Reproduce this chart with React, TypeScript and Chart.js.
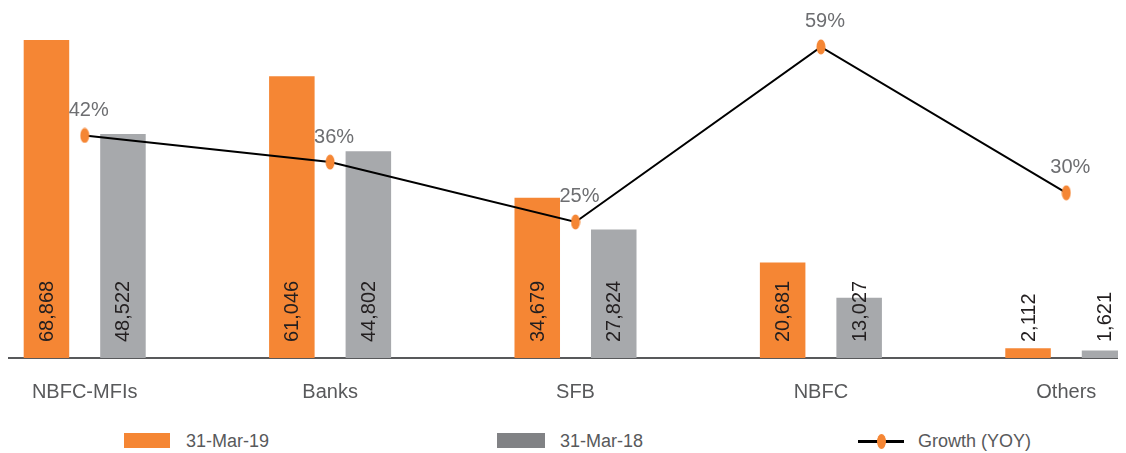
import React, { useEffect, useRef } from "react";
import { Chart, registerables } from "chart.js";

Chart.register(...registerables);

const categories = ["NBFC-MFIs", "Banks", "SFB", "NBFC", "Others"];
const mar19 = [68868, 61046, 34679, 20681, 2112];
const mar18 = [48522, 44802, 27824, 13027, 1621];
const growth = [41.5, 36.3, 24.6, 58.8, 30.3];
const seriesNames = ["31-Mar-19", "31-Mar-18", "Growth (YOY)"];

const ORANGE = "#F58634";
const GREY = "#A7A9AC";
const LEGEND_GREY = "#818285";
const TEXT = "#58595B";
const FONT = '"Liberation Sans", Arial, sans-serif';

function makeDot(): HTMLCanvasElement {
  const c = document.createElement("canvas");
  c.width = 10;
  c.height = 16;
  const g = c.getContext("2d")!;
  g.fillStyle = ORANGE;
  g.beginPath();
  g.ellipse(5, 8, 4.5, 7.5, 0, 0, Math.PI * 2);
  g.fill();
  return c;
}

const fmt = (v: number) => v.toLocaleString("en-US");

const labelPlugin = {
  id: "valueLabels",
  afterDatasetsDraw(chart: any) {
    const ctx = chart.ctx as CanvasRenderingContext2D;
    const bottom = chart.chartArea.bottom;
    [0, 1].forEach((di) => {
      const meta = chart.getDatasetMeta(di);
      const data = chart.data.datasets[di].data as number[];
      meta.data.forEach((el: any, i: number) => {
        ctx.save();
        ctx.translate(el.x, bottom - 16);
        ctx.rotate(-Math.PI / 2);
        ctx.font = `20px ${FONT}`;
        ctx.fillStyle = "#231F20";
        ctx.textAlign = "left";
        ctx.textBaseline = "middle";
        ctx.fillText(fmt(data[i]), 0, 1);
        ctx.restore();
      });
    });
    const lmeta = chart.getDatasetMeta(2);
    const ldata = chart.data.datasets[2].data as number[];
    lmeta.data.forEach((el: any, i: number) => {
      ctx.save();
      ctx.font = `20px ${FONT}`;
      ctx.fillStyle = "#6D6E71";
      ctx.textAlign = "center";
      ctx.textBaseline = "middle";
      ctx.fillText(Math.round(ldata[i]) + "%", el.x + 4, el.y - 25);
      ctx.restore();
    });
  },
};

export default function App() {
  const ref = useRef<HTMLCanvasElement | null>(null);

  useEffect(() => {
    if (!ref.current) return;
    const dot = makeDot();
    const chart = new Chart(ref.current, {
      type: "bar",
      data: {
        labels: categories,
        datasets: [
          {
            type: "bar",
            label: seriesNames[0],
            data: mar19,
            backgroundColor: ORANGE,
            categoryPercentage: 0.6235,
            barPercentage: 0.595,
            yAxisID: "y",
            order: 1,
          },
          {
            type: "bar",
            label: seriesNames[1],
            data: mar18,
            backgroundColor: GREY,
            categoryPercentage: 0.6235,
            barPercentage: 0.595,
            yAxisID: "y",
            order: 1,
          },
          {
            type: "line",
            label: seriesNames[2],
            data: growth,
            borderColor: "#000000",
            borderWidth: 2,
            pointStyle: dot as any,
            pointRadius: 6,
            yAxisID: "y2",
            order: 0,
          } as any,
        ],
      },
      options: {
        animation: false,
        responsive: false,
        devicePixelRatio: 1,
        layout: { padding: 0, autoPadding: false },
        plugins: {
          legend: { display: false },
          tooltip: { enabled: false },
        },
        scales: {
          x: {
            offset: true,
            grid: { display: false, drawTicks: false },
            border: { display: true, color: "#58595B", width: 2 },
            ticks: {
              color: TEXT,
              font: { family: FONT, size: 20 },
              padding: 22,
              maxRotation: 0,
              autoSkip: false,
            },
            afterFit: (s: any) => {
              s.height = 50;
            },
          },
          y: { display: false, min: 0, max: 75800 },
          y2: { display: false, min: -1.97, max: 66.4, position: "right" },
        },
      },
      plugins: [labelPlugin],
    });
    return () => chart.destroy();
  }, []);

  const legendText: React.CSSProperties = {
    position: "absolute",
    top: 422,
    fontFamily: FONT,
    fontSize: 18,
    color: TEXT,
    lineHeight: "22px",
    whiteSpace: "nowrap",
  };

  return (
    <div style={{ position: "relative", width: 1118, height: 445, overflow: "hidden" }}>
      <canvas
        ref={ref}
        width={1227}
        height={400}
        style={{ position: "absolute", left: -46, top: 0, width: 1227, height: 400 }}
      />
      <div style={{ position: "absolute", left: 116, top: 425, width: 46, height: 15, background: ORANGE }} />
      <div style={{ ...legendText, left: 178 }}>{seriesNames[0]}</div>
      <div style={{ position: "absolute", left: 489, top: 425, width: 48, height: 15, background: LEGEND_GREY }} />
      <div style={{ ...legendText, left: 552 }}>{seriesNames[1]}</div>
      <div style={{ position: "absolute", left: 850, top: 432, width: 46, height: 3, background: "#000" }} />
      <div
        style={{
          position: "absolute",
          left: 868.5,
          top: 426,
          width: 9,
          height: 15,
          borderRadius: "50%",
          background: ORANGE,
        }}
      />
      <div style={{ ...legendText, left: 910 }}>{seriesNames[2]}</div>
    </div>
  );
}
